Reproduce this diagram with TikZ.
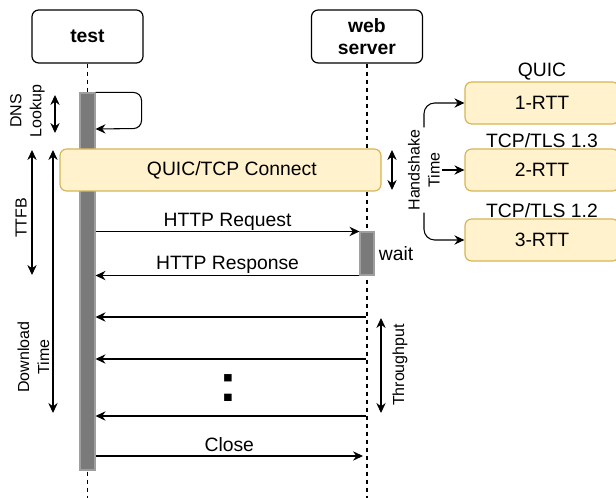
\documentclass[tikz,border=0pt]{standalone}
\usepackage{fontspec}
\setmainfont{Liberation Sans}
\usetikzlibrary{arrows.meta}
\definecolor{notefill}{HTML}{FFF2CC}
\definecolor{notedraw}{HTML}{D6B656}
\begin{document}
\begin{tikzpicture}[x=0.75pt,y=-0.75pt,
    >={Stealth[length=7.5pt,width=7pt,inset=2.5pt]},
    actor/.style={draw, rounded corners=5pt, line width=0.9pt, minimum width=83.25pt,
      minimum height=39.75pt, align=center, font=\fontsize{14.5}{16.5}\selectfont\bfseries},
    bar/.style={draw=black!38, fill=black!52, line width=0.8pt, minimum width=10.5pt, inner sep=0pt},
    note/.style={draw=notedraw, fill=notefill, rounded corners=5pt, line width=0.9pt,
      minimum height=31.5pt, inner sep=0pt, font=\fontsize{14.5}{17}\selectfont},
    lbl/.style={font=\fontsize{14.5}{17}\selectfont, inner sep=0pt},
    side/.style={font=\fontsize{12}{15}\selectfont, align=center, rotate=90, inner sep=1.5pt},
    life/.style={dash pattern=on 3pt off 3pt, line width=0.9pt},
    msg/.style={->, line width=0.8pt},
    span/.style={<->, line width=0.8pt}]
  \clip (0,0) rectangle (616,498); % tamanho da figura

  % participantes e linhas de vida
  \node[actor] (test) at (87.5,36.5) {test};
  \node[actor] (srv) at (367,36.5) {web\\server};
  \draw[life] (test.south) -- (test.south |- 0,498);
  \draw[life] (srv.south) -- (srv.south |- 0,498);
  \node[bar, minimum width=11.25pt, minimum height=282.75pt] (testbar) at (87.5,281.5) {};
  \node[bar, minimum height=32.25pt] (srvbar) at (367,253.5) {};

  % DNS
  \draw[msg, rounded corners=6pt] (testbar.north east) -- ++(46,0) -- ++(0,36)
      -- (testbar.east |- 0,129);
  \coordinate (dns1) at (55,95); \coordinate (dns2) at (55,133);
  \draw[span] (dns1) -- (dns2);
  \node[side] (dns) at (27.5,111) {DNS\\Lookup};

  % conexao
  \node[note, minimum width=240.75pt] (conn) at (220.5,170) {\hspace*{17pt}QUIC/TCP Connect};
  \coordinate (hs1) at (392,150); \coordinate (hs2) at (392,190);
  \draw[span] (hs1) -- (hs2);

  % pedido e resposta
  \draw[msg] (testbar.east |- srvbar.north west) -- (srvbar.north west)
      node[lbl, midway, above=0.5pt] (req) {HTTP Request};
  \draw[msg] (srvbar.south west) -- (testbar.east |- srvbar.south west)
      node[lbl, midway, above=1pt] (resp) {HTTP Response};
  \node[lbl, right=3pt] (wait) at (srvbar.east) {wait};

  % download
  \foreach \y [count=\i] in {317,359,416} {
    \coordinate (d\i) at (366,\y);
    \draw[msg] (d\i) -- (testbar.east |- d\i);
  }
  \node[lbl] (dots) at (228,388) {\fontsize{40}{40}\selectfont\bfseries :};
  \coordinate (cl) at (363,456);
  \draw[msg] (testbar.east |- cl) -- (cl) node[lbl, midway, above=3pt] (close) {Close};
  \coordinate (tp1) at (381,318); \coordinate (tp2) at (381,413);
  \draw[span] (tp1) -- (tp2);
  \node[side] (tp) at (400,365) {Throughput};

  % tempos a esquerda
  \coordinate (tt1) at (32,150); \coordinate (tt2) at (32,275);
  \draw[span] (tt1) -- (tt2);
  \node[side] (ttfb) at (21,218) {TTFB};
  \coordinate (dl1) at (53,150); \coordinate (dl2) at (53,413);
  \draw[span] (dl1) -- (dl2);
  \node[side] (dl) at (33.5,357) {Download\\Time};

  % handshakes
  \node[note, minimum width=115.5pt] (rtt1) at (542,103) {1-RTT};
  \node[note, minimum width=115.5pt] (rtt2) at (542,170) {2-RTT};
  \node[note, minimum width=115.5pt] (rtt3) at (542,240) {3-RTT};
  \node[lbl, above=0.5pt] (quic) at (rtt1.north) {QUIC};
  \node[lbl, above=0.5pt] (tls13) at (rtt2.north) {TCP/TLS 1.3};
  \node[lbl, above=0.5pt] (tls12) at (rtt3.north) {TCP/TLS 1.2};
  \node[side, fill=white] (hs) at (424,170) {Handshake\\Time};
  \draw[msg, rounded corners=8pt] (hs.east) |- (rtt1.west);
  \draw[msg, rounded corners=8pt] (hs.west) |- (rtt3.west);
  \draw[msg] (hs.south) -- (rtt2.west);
\end{tikzpicture}
\end{document}
